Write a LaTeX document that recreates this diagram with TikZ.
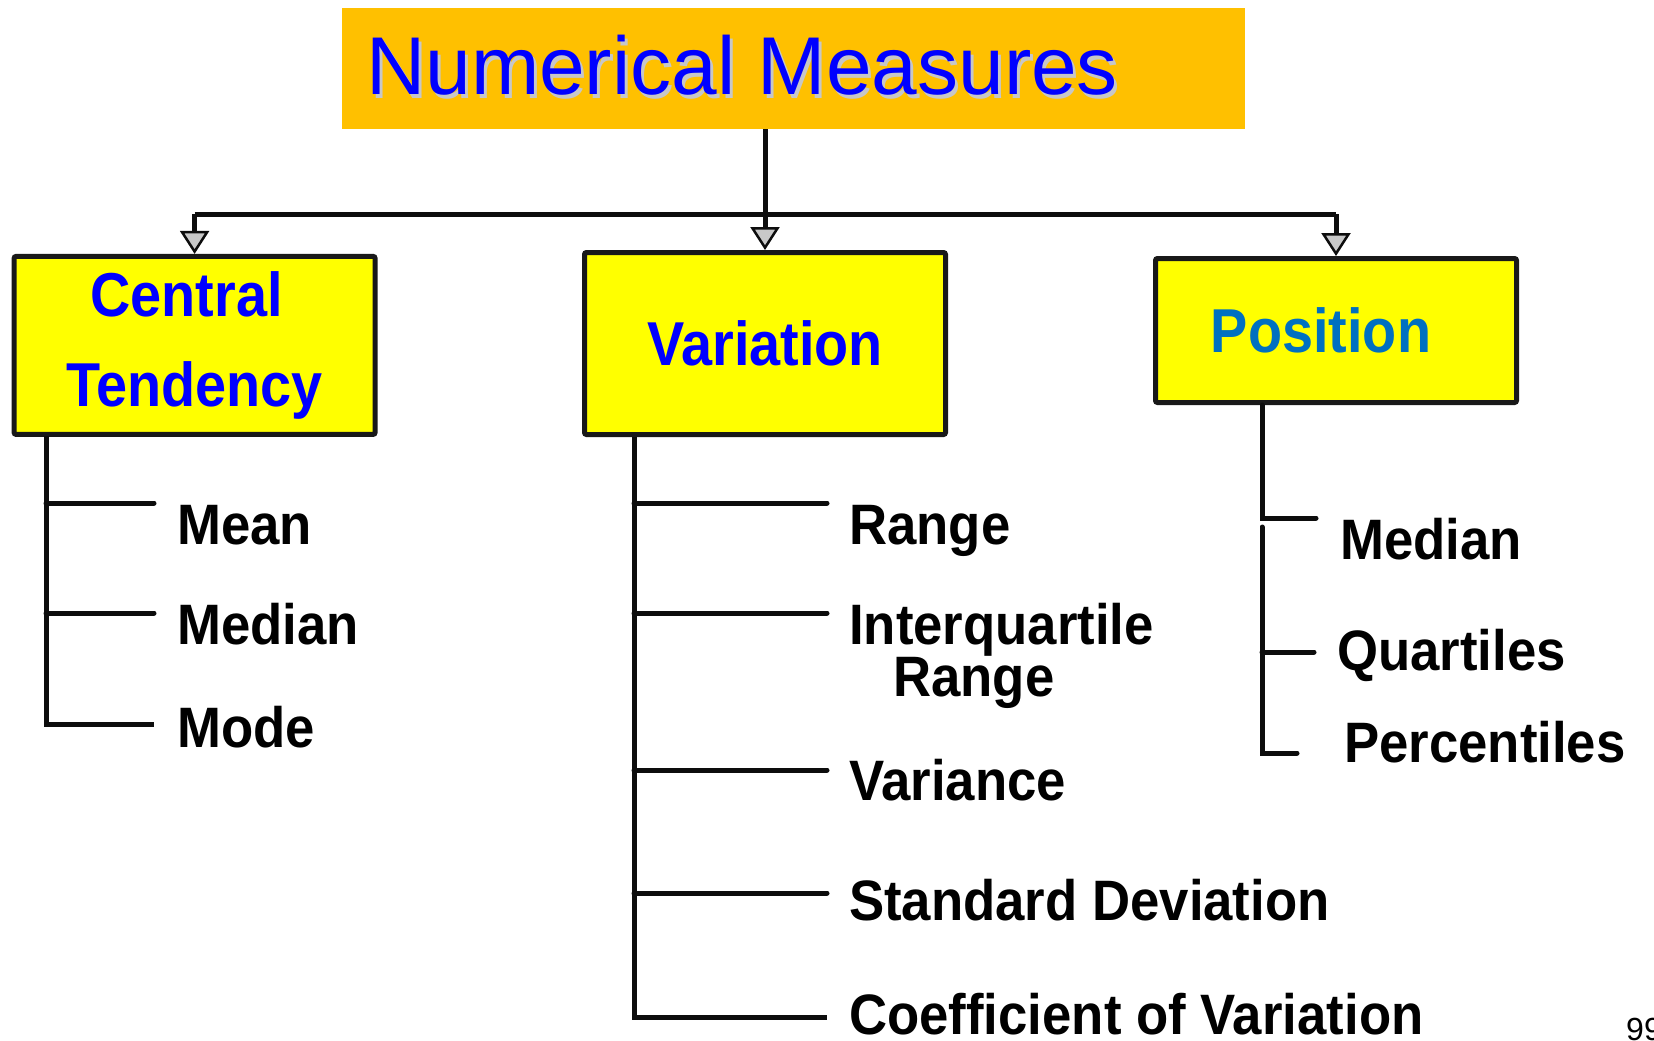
\documentclass[tikz,border=0pt]{standalone}
\usepackage{fontspec}
\setmainfont{Liberation Sans}
\newfontfamily\nmcond{Liberation Sans}[FakeStretch=0.9]
\newfontfamily\nmitem{Liberation Sans}[FakeStretch=0.925]
\usepackage{tikz}
\usetikzlibrary{
  arrows.meta,
  positioning,
  calc
}
\definecolor{nmOrange}{HTML}{FFC000}
\definecolor{nmYellow}{HTML}{FFFF00}
\definecolor{nmBlue}{HTML}{0000FF}
\definecolor{nmPos}{HTML}{0070C0}
\definecolor{nmTip}{HTML}{C8C8C8}
\tikzset{
  titlebox/.style={fill=nmOrange, minimum width=903pt, minimum height=121pt, inner sep=0pt},
  titletext/.style={anchor=base west, inner sep=0pt, text=nmBlue, font=\fontsize{82}{90}\selectfont},
  catbox/.style={
    draw=black!90, fill=nmYellow, line width=5pt, rounded corners=2pt,
    minimum width=361pt, align=center, text=nmBlue,
    font=\nmcond\bfseries\fontsize{62}{90}\selectfont
  },
  item/.style={inner sep=0pt, align=left, font=\nmitem\bfseries\fontsize{57}{50}\selectfont},
  branch/.style={line width=5pt, black!95},
  bar/.style={line width=5pt, black!95},
  drop/.style={bar, -{Triangle[length=23pt, width=29pt, fill=nmTip, line width=2.5pt]}},
  pagenum/.style={anchor=base west, inner sep=0pt, font=\fontsize{32}{36}\selectfont}
}
\begin{document}
\begin{tikzpicture}[x=1pt, y=-1pt]
  \useasboundingbox (0,0) rectangle (1654,1041);

  % title
  \node[titlebox] (title) at (793.5,68.5) {};
  \node[titletext, text=black!22] (titleshade) at (369,98) {Numerical Measures};
  \node[titletext] (titletext) at (366,95) {Numerical Measures};

  % the three groups
  \node[catbox, minimum height=178pt] (ct) at (194.6,345.4) {\hspace*{-16pt}Central\\Tendency};
  \node[catbox, minimum height=182pt] (var) at (765,343.5) {Variation};
  \node[catbox, minimum height=144pt, text=nmPos] (pos) at (1336,330.5) {Position\hspace*{30pt}};

  \coordinate (hub) at (765,214);
  \draw[bar] (hub |- title.south) -- (hub);
  \draw[bar] (hub -| ct.north) -- (hub -| pos.north);
  \draw[drop] (hub -| ct.north) -- (ct.north);
  \draw[drop] (hub -| var.north) -- (var.north);
  \draw[drop] (hub -| pos.north) -- (pos.north);

  % central tendency
  \coordinate (ct0) at (46,436);
  \coordinate (ct1) at (154,503);
  \coordinate (ct2) at (154,613);
  \coordinate (ct3) at (154,724);
  \draw[branch] (ct0) |- (ct3);
  \draw[branch, line cap=round] (ct0 |- ct1) -- (ct1);
  \draw[branch, line cap=round] (ct0 |- ct2) -- (ct2);
  \node[item, anchor=base west] (mean) at (177,544) {Mean};
  \node[item, anchor=base west] (median) at (177,644) {Median};
  \node[item, anchor=base west] (mode) at (177,747) {Mode};

  % variation
  \coordinate (var0) at (634,437);
  \coordinate (var1) at (827,503);
  \coordinate (var2) at (827,613);
  \coordinate (var3) at (827,770);
  \coordinate (var4) at (827,893);
  \coordinate (var5) at (827,1017);
  \draw[branch] (var0) |- (var5);
  \foreach \k in {1,...,4}
    \draw[branch, line cap=round] (var0 |- var\k) -- (var\k);
  \node[item, anchor=base west] (range) at (849,544) {Range};
  \node[item, anchor=north west] (iqr) at (849,603) {Interquartile\\\hspace*{44pt}Range};
  \node[item, anchor=base west] (variance) at (849,800) {Variance};
  \node[item, anchor=base west] (stdev) at (849,920) {Standard Deviation};
  \node[item, anchor=base west] (cv) at (849,1034) {Coefficient of Variation};

  % position
  \coordinate (pos0) at (1262,405);
  \coordinate (pos1) at (1316,518);
  \coordinate (pos2) at (1314,652);
  \coordinate (pos3) at (1297,753);
  \draw[branch, line cap=round] (pos0) |- (pos1);
  \draw[branch, line cap=round] (1262,527) |- (pos3);
  \draw[branch, line cap=round] (pos0 |- pos2) -- (pos2);
  \node[item, anchor=base west] (pmedian) at (1340,559) {Median};
  \node[item, anchor=base west] (quart) at (1337,670) {Quartiles};
  \node[item, anchor=base west] (pctl) at (1344,762) {Percentiles};

  \node[pagenum] (pgno) at (1626,1040) {99};
\end{tikzpicture}
\end{document}
